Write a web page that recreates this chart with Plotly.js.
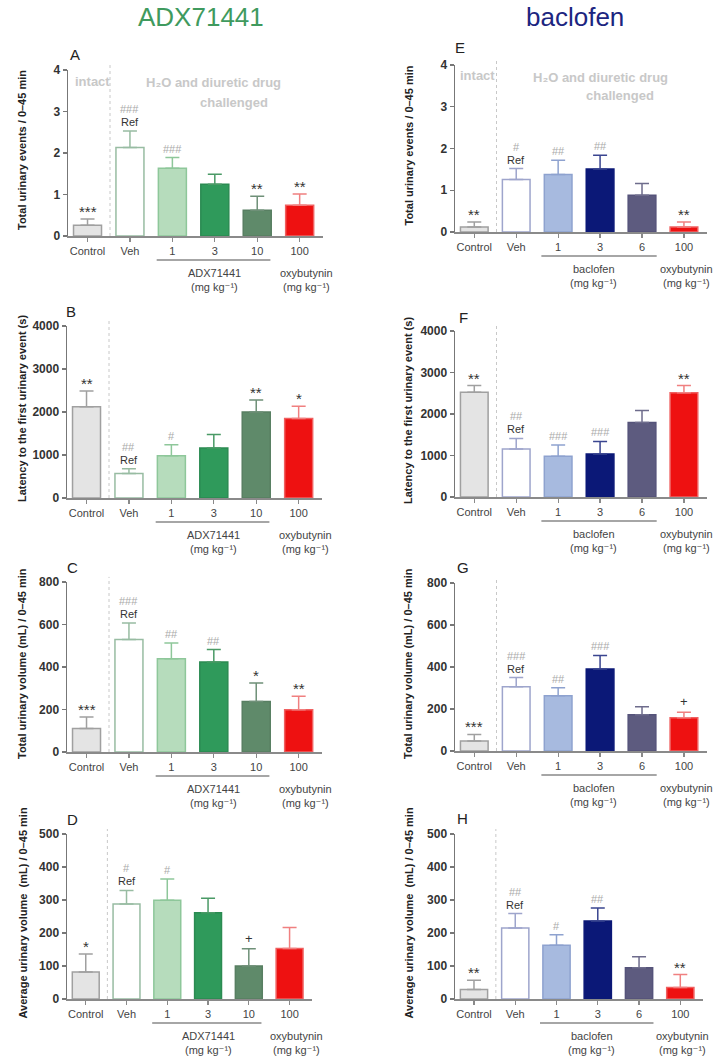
<!DOCTYPE html>
<html>
<head>
<meta charset="utf-8">
<script src="https://cdn.plot.ly/plotly-3.0.1.min.js"></script>
<style>html,body{margin:0;padding:0;background:#fff;}#chart{width:718px;height:1058px;}</style>
</head>
<body>
<div id="chart"></div>
<script>
// ---------- DATA ----------
const catsADX = ["Control", "Veh", "1", "3", "10", "100"];
const catsBac = ["Control", "Veh", "1", "3", "6", "100"];

// Panel A: total urinary events (ADX71441)
const A_mean = [0.26, 2.13, 1.63, 1.25, 0.62, 0.74];
const A_sem  = [0.15, 0.40, 0.26, 0.24, 0.34, 0.27];
const A_star = ["***", "", "", "", "**", "**"];
const A_hash = ["", "###", "###", "", "", ""];
// Panel B: latency (ADX71441)
const B_mean = [2120, 570, 980, 1165, 2000, 1850];
const B_sem  = [370, 110, 260, 310, 280, 285];
const B_star = ["**", "", "", "", "**", "*"];
const B_hash = ["", "##", "#", "", "", ""];
// Panel C: total urinary volume (ADX71441)
const C_mean = [110, 529, 439, 424, 238, 199];
const C_sem  = [55, 78, 74, 58, 87, 63];
const C_star = ["***", "", "", "", "*", "**"];
const C_hash = ["", "###", "##", "##", "", ""];
// Panel D: average urinary volume (ADX71441)
const D_mean = [82, 288, 299, 261, 100, 153];
const D_sem  = [54, 41, 65, 44, 52, 64];
const D_star = ["*", "", "", "", "+", ""];
const D_hash = ["", "#", "#", "", "", ""];
// Panel E: total urinary events (baclofen)
const E_mean = [0.12, 1.26, 1.38, 1.51, 0.88, 0.12];
const E_sem  = [0.12, 0.26, 0.34, 0.33, 0.28, 0.12];
const E_star = ["**", "", "", "", "", "**"];
const E_hash = ["", "#", "##", "##", "", ""];
// Panel F: latency (baclofen)
const F_mean = [2525, 1155, 980, 1035, 1795, 2510];
const F_sem  = [160, 255, 270, 305, 290, 175];
const F_star = ["**", "", "", "", "", "**"];
const F_hash = ["", "##", "###", "###", "", ""];
// Panel G: total urinary volume (baclofen)
const G_mean = [48, 306, 263, 391, 173, 158];
const G_sem  = [31, 44, 38, 64, 38, 26];
const G_star = ["***", "", "", "", "", "+"];
const G_hash = ["", "###", "##", "###", "", ""];
// Panel H: average urinary volume (baclofen)
const H_mean = [29, 215, 163, 236, 95, 35];
const H_sem  = [28, 44, 32, 40, 33, 39];
const H_star = ["**", "", "", "", "", "**"];
const H_hash = ["", "##", "#", "##", "", ""];

const yTitles = [
  "Total urinary events / 0\u201345 min",
  "Latency to the first urinary event (s)",
  "Total urinary volume (mL) / 0\u201345 min",
  "Average urinary volume  (mL) / 0\u201345 min"
];
const groupADX = "ADX71441";
const groupBac = "baclofen";
const groupRef = "oxybutynin";
const doseUnit = "(mg kg\u207B\u00B9)";
const headerTexts = ["intact", "H\u2082O and diuretic drug", "challenged"];

// ---------- STYLE ----------
const W = 718, H = 1058;
const FONT = "Liberation Sans, Arial, DejaVu Sans, sans-serif";
const fillADX = ["#e4e4e4", "#ffffff", "#b6dcbc", "#2f9a5b", "#5f8a6a", "#ee1111"];
const lineADX = ["#a0a0a0", "#98bca2", "#8ec79a", "#2b8b52", "#587f62", "#f06060"];
const errADX  = ["#a0a0a0", "#98bca2", "#8ec79a", "#4a9a66", "#6f9078", "#f08080"];
const fillBac = ["#e4e4e4", "#ffffff", "#a7badf", "#0b1877", "#5d5b7f", "#ee1111"];
const lineBac = ["#a0a0a0", "#9ea5cc", "#8ea2cf", "#0b1877", "#55537a", "#f06060"];
const errBac  = ["#a0a0a0", "#9ea5cc", "#8ea2cf", "#3a4590", "#6e6c8c", "#f08080"];

const panels = [
  {L:"A", m:A_mean, s:A_sem, st:A_star, hs:A_hash, side:0, xl:68,  xr:323, yt:70,  yb:236, ymax:4,    dt:1,    t:0, lx:68,  ly:54},
  {L:"B", m:B_mean, s:B_sem, st:B_star, hs:B_hash, side:0, xl:67,  xr:322, yt:326, yb:498, ymax:4000, dt:1000, t:1, lx:64,  ly:311},
  {L:"C", m:C_mean, s:C_sem, st:C_star, hs:C_hash, side:0, xl:67,  xr:322, yt:582, yb:752, ymax:800,  dt:200,  t:2, lx:65,  ly:567},
  {L:"D", m:D_mean, s:D_sem, st:D_star, hs:D_hash, side:0, xl:67,  xr:312, yt:834, yb:999, ymax:500,  dt:100,  t:3, lx:65,  ly:819},
  {L:"E", m:E_mean, s:E_sem, st:E_star, hs:E_hash, side:1, xl:455, xr:707, yt:65,  yb:232, ymax:4,    dt:1,    t:0, lx:453, ly:48},
  {L:"F", m:F_mean, s:F_sem, st:F_star, hs:F_hash, side:1, xl:455, xr:707, yt:331, yb:497, ymax:4000, dt:1000, t:1, lx:457, ly:317},
  {L:"G", m:G_mean, s:G_sem, st:G_star, hs:G_hash, side:1, xl:455, xr:707, yt:583, yb:751, ymax:800,  dt:200,  t:2, lx:455, ly:567},
  {L:"H", m:H_mean, s:H_sem, st:H_star, hs:H_hash, side:1, xl:455, xr:703, yt:834, yb:999, ymax:500,  dt:100,  t:3, lx:455, ly:818}
];

const XR = [-0.46, 5.55];
const data = [];
const layout = {
  width: W, height: H,
  margin: {l: 0, r: 0, t: 0, b: 0},
  paper_bgcolor: "#ffffff", plot_bgcolor: "rgba(0,0,0,0)",
  showlegend: false, barmode: "overlay",
  font: {family: FONT, color: "#333"},
  annotations: [], shapes: []
};
const px = x => x / W;
const py = y => 1 - y / H;

panels.forEach((p, k) => {
  const n = k + 1;
  const xn = "x" + (n === 1 ? "" : n), yn = "y" + (n === 1 ? "" : n);
  const xk = "xaxis" + (n === 1 ? "" : n), yk = "yaxis" + (n === 1 ? "" : n);
  const cats = p.side === 0 ? catsADX : catsBac;
  const fills = p.side === 0 ? fillADX : fillBac;
  const lines = p.side === 0 ? lineADX : lineBac;
  const errs = p.side === 0 ? errADX : errBac;

  layout[xk] = {
    domain: [px(p.xl), px(p.xr)], range: XR, anchor: yn,
    tickmode: "array", tickvals: cats.map((c, i) => i), ticktext: cats,
    showline: true, linecolor: "#8a8a8a", linewidth: 1.5,
    ticks: "outside", ticklen: 4, tickcolor: "#8a8a8a", tickwidth: 1.2,
    tickfont: {family: FONT, size: 11, color: "#444"},
    showgrid: false, zeroline: false, fixedrange: true
  };
  layout[yk] = {
    domain: [py(p.yb), py(p.yt)], range: [0, p.ymax], anchor: xn,
    tickmode: "linear", tick0: 0, dtick: p.dt,
    showline: true, linecolor: "#777", linewidth: 1.5,
    ticks: "outside", ticklen: 4, tickcolor: "#777", tickwidth: 1.2,
    tickfont: {family: FONT, size: 12, color: "#333", weight: "bold"},
    showgrid: false, zeroline: false, fixedrange: true
  };

  p.m.forEach((v, i) => {
    data.push({
      type: "bar", x: [i], y: [v], width: 0.66, xaxis: xn, yaxis: yn,
      marker: {color: fills[i], line: {color: lines[i], width: 1.5}},
      error_y: {type: "data", symmetric: false, array: [p.s[i]], arrayminus: [0],
                color: errs[i], thickness: 1.5, width: 7},
      hoverinfo: "skip"
    });
    // significance labels
    const top = v + p.s[i];
    let shift = 1;
    const isRef = i === 1;
    const dark = isRef ? "Ref" : p.st[i];
    if (dark) {
      const isStar = dark.indexOf("*") >= 0;
      layout.annotations.push({xref: xn, yref: yn, x: i, y: top, text: dark, showarrow: false,
        yanchor: "bottom", yshift: isStar ? -3 : shift,
        font: {family: FONT, size: isStar ? 15 : (isRef ? 11 : 13), color: "#333"}});
      shift += 13;
    }
    if (p.hs[i]) {
      layout.annotations.push({xref: xn, yref: yn, x: i, y: top, text: p.hs[i], showarrow: false,
        yanchor: "bottom", yshift: shift,
        font: {family: FONT, size: 11, color: "#aaaaaa"}});
    }
  });

  // dotted divider
  layout.shapes.push({type: "line", xref: xn, yref: yn + " domain", x0: 0.53, x1: 0.53, y0: 0, y1: 1.03,
    line: {color: "#c8c8c8", width: 1, dash: "dot"}});
  // group underline
  const g0 = p.side === 0 ? 1.63 : 1.6, g1 = p.side === 0 ? 4.31 : 4.35;
  layout.shapes.push({type: "line", xref: xn, yref: "paper", x0: g0, x1: g1,
    y0: py(p.yb + 24), y1: py(p.yb + 24), line: {color: "#888", width: 1.3}});
  const gx = p.side === 0 ? 3.0 : 2.85, ox = p.side === 0 ? 5.17 : 5.05;
  const gname = p.side === 0 ? groupADX : groupBac;
  [[gx, gname], [ox, groupRef]].forEach(([x, t]) => {
    layout.annotations.push({xref: xn, yref: "paper", x: x, y: py(p.yb + 37), text: t,
      showarrow: false, xanchor: "center", yanchor: "middle",
      font: {family: FONT, size: 11, color: "#444"}});
    layout.annotations.push({xref: xn, yref: "paper", x: x, y: py(p.yb + 51), text: doseUnit,
      showarrow: false, xanchor: "center", yanchor: "middle",
      font: {family: FONT, size: 11, color: "#444"}});
  });

  // y-axis title
  layout.annotations.push({xref: "paper", yref: "paper", x: px(p.side === 0 ? 22 : 408),
    y: py((p.yt + p.yb) / 2 - 3), text: "<b>" + yTitles[p.t] + "</b>", textangle: -90,
    showarrow: false, xanchor: "center", yanchor: "middle",
    font: {family: FONT, size: 11, color: "#222"}});
  // panel letter
  layout.annotations.push({xref: "paper", yref: "paper", x: px(p.lx), y: py(p.ly), text: p.L,
    showarrow: false, xanchor: "left", yanchor: "middle",
    font: {family: FONT, size: 15, color: "#222"}});
});

// header text in top panels
const grey = "#c8c8c8";
[
  [92, 82, 0], [213, 83, 1], [234, 102, 2],
  [477, 75, 0], [600, 77, 1], [620, 96, 2]
].forEach(([x, y, j]) => {
  layout.annotations.push({xref: "paper", yref: "paper", x: px(x), y: py(y), text: "<b>" + headerTexts[j] + "</b>",
    showarrow: false, xanchor: "center", yanchor: "middle",
    font: {family: FONT, size: 13, color: grey}});
});

// column titles
layout.annotations.push({xref: "paper", yref: "paper", x: px(201), y: py(17), text: "ADX71441",
  showarrow: false, xanchor: "center", yanchor: "middle",
  font: {family: FONT, size: 26, color: "#3f9a5e"}});
layout.annotations.push({xref: "paper", yref: "paper", x: px(575), y: py(17), text: "baclofen",
  showarrow: false, xanchor: "center", yanchor: "middle",
  font: {family: FONT, size: 26, color: "#1c2580"}});

Plotly.newPlot("chart", data, layout, {staticPlot: true, displayModeBar: false});
</script>
</body>
</html>
